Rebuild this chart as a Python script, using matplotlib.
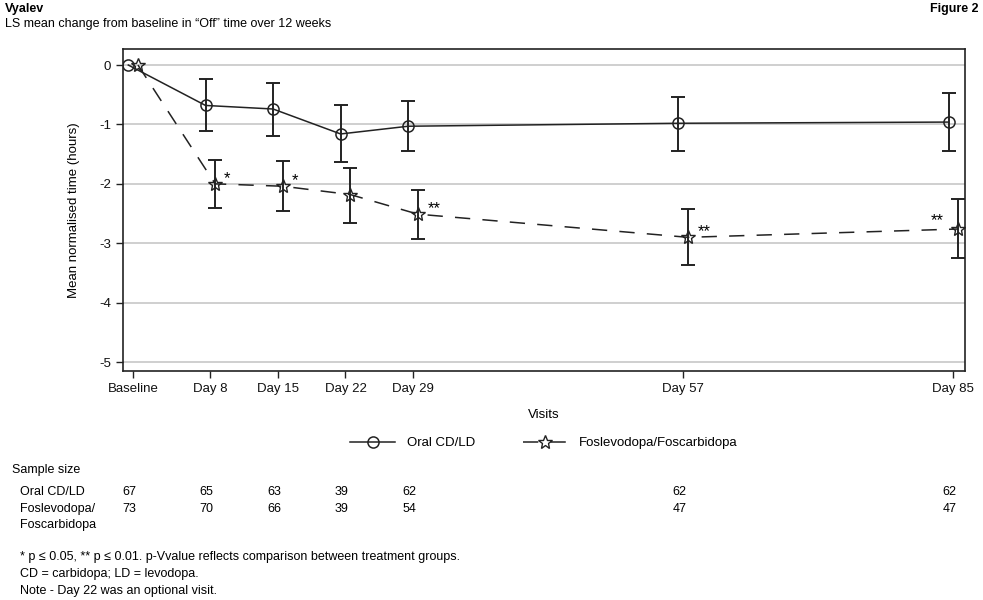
import matplotlib
matplotlib.use("Agg")
import matplotlib.pyplot as plt
from matplotlib import font_manager
from matplotlib.transforms import blended_transform_factory

names = {f.name for f in font_manager.fontManager.ttflist}
if 'Liberation Sans Narrow' in names:
    plt.rcParams['font.family'] = ['Liberation Sans Narrow', 'DejaVu Sans']
    FS = 10.5
else:
    plt.rcParams['font.family'] = ['Liberation Sans', 'DejaVu Sans']
    FS = 9

# data
days = [0, 8, 15, 22, 29, 57, 85]
tick_labels = ["Baseline", "Day 8", "Day 15", "Day 22", "Day 29", "Day 57", "Day 85"]

oral_mean = [0, -0.68, -0.74, -1.16, -1.03, -0.98, -0.96]
oral_lo = [0, -1.11, -1.19, -1.64, -1.45, -1.44, -1.45]
oral_hi = [0, -0.24, -0.30, -0.68, -0.60, -0.53, -0.47]

fos_mean = [0, -2.00, -2.04, -2.18, -2.51, -2.90, -2.76]
fos_lo = [0, -2.41, -2.46, -2.66, -2.92, -3.37, -3.25]
fos_hi = [0, -1.59, -1.62, -1.73, -2.10, -2.43, -2.26]
fos_sig = ["", "*", "*", "", "**", "**", "**"]

n_oral = [67, 65, 63, 39, 62, 62, 62]
n_fos = [73, 70, 66, 39, 54, 47, 47]

fig = plt.figure(figsize=(9.83, 6.0), dpi=100)
ax = fig.add_axes([123 / 983, 1 - 371 / 600, (965 - 123) / 983, (371 - 49) / 600])

off = 0.5
x_oral = [d - off for d in days]
x_fos = [d + off for d in days]

err_oral = [[m - l for m, l in zip(oral_mean, oral_lo)], [h - m for m, h in zip(oral_mean, oral_hi)]]
err_fos = [[m - l for m, l in zip(fos_mean, fos_lo)], [h - m for m, h in zip(fos_mean, fos_hi)]]

ax.errorbar(x_oral[1:], oral_mean[1:], yerr=[e[1:] for e in err_oral], fmt='none',
            ecolor='#222222', elinewidth=1.4, capsize=5, capthick=1.4, zorder=3)
ax.errorbar(x_fos[1:], fos_mean[1:], yerr=[e[1:] for e in err_fos], fmt='none',
            ecolor='#222222', elinewidth=1.4, capsize=5, capthick=1.4, zorder=3)

ax.plot(x_oral, oral_mean, color='#222222', lw=1.1, marker='o', ms=8,
        mfc='none', mec='#222222', mew=1.1, label="Oral CD/LD", zorder=4)
ax.plot(x_fos, fos_mean, color='#222222', lw=1.1, ls=(0, (10, 8)), marker='*', ms=10,
        mfc='none', mec='#222222', mew=1.0, label="Foslevodopa/Foscarbidopa", zorder=4)

# significance stars next to the Foslevodopa points
for x, y, s in zip(x_fos, fos_mean, fos_sig):
    if not s:
        continue
    if x > 80:
        ax.annotate(s, (x, y), xytext=(-15, 6), textcoords='offset points',
                    ha='center', va='center', fontsize=FS + 3)
    else:
        ax.annotate(s, (x, y), xytext=(5 + 3.5 * len(s), 4), textcoords='offset points',
                    ha='center', va='center', fontsize=FS + 3)

ax.set_xlim(-1.05, 86.2)
ax.set_ylim(-5.15, 0.27)
ax.set_xticks(days)
ax.set_xticklabels(tick_labels)
ax.set_yticks([0, -1, -2, -3, -4, -5])
ax.set_yticklabels(["0", "-1", "-2", "-3", "-4", "-5"])
ax.tick_params(labelsize=FS + 0.5, length=5, width=1, color='#222222', labelcolor='#111111')
ax.yaxis.grid(True, color='#cccccc', lw=1.3)
ax.set_axisbelow(True)
for sp in ax.spines.values():
    sp.set_color('#222222')
    sp.set_linewidth(1.2)

ax.set_xlabel("Visits", fontsize=FS + 0.5, labelpad=10)
ax.set_ylabel("Mean normalised time (hours)", fontsize=FS + 0.5, labelpad=14)

ax.legend(loc='upper center', bbox_to_anchor=(0.5, -0.168), ncol=2, frameon=False,
          fontsize=FS + 0.5, handlelength=3.4, columnspacing=3.6, handletextpad=0.9)

fig.text(5 / 983, 1 - 9 / 600, "Vyalev", fontsize=FS, fontweight='bold', va='center')
fig.text(978 / 983, 1 - 9 / 600, "Figure 2", fontsize=FS, fontweight='bold', va='center', ha='right')
fig.text(5 / 983, 1 - 24 / 600, "LS mean change from baseline in \u201cOff\u201d time over 12 weeks",
         fontsize=FS, va='center')

# sample size table
tr = blended_transform_factory(ax.transData, fig.transFigure)
fig.text(12 / 983, 1 - 470 / 600, "Sample size", fontsize=FS, va='center')
fig.text(20 / 983, 1 - 492 / 600, "Oral CD/LD", fontsize=FS, va='center')
fig.text(20 / 983, 1 - 509 / 600, "Foslevodopa/", fontsize=FS, va='center')
fig.text(20 / 983, 1 - 525 / 600, "Foscarbidopa", fontsize=FS, va='center')
for d, a, b in zip(days, n_oral, n_fos):
    fig.text(d - 0.4, 1 - 492 / 600, str(a), transform=tr, fontsize=FS, ha='center', va='center')
    fig.text(d - 0.4, 1 - 509 / 600, str(b), transform=tr, fontsize=FS, ha='center', va='center')

notes = ["* p \u2264 0.05, ** p \u2264 0.01. p-Vvalue reflects comparison between treatment groups.",
         "CD = carbidopa; LD = levodopa.",
         "Note - Day 22 was an optional visit."]
for i, t in enumerate(notes):
    fig.text(20 / 983, 1 - (557 + 17 * i) / 600, t, fontsize=FS, va='center')

fig.savefig("out.png", dpi=100)
